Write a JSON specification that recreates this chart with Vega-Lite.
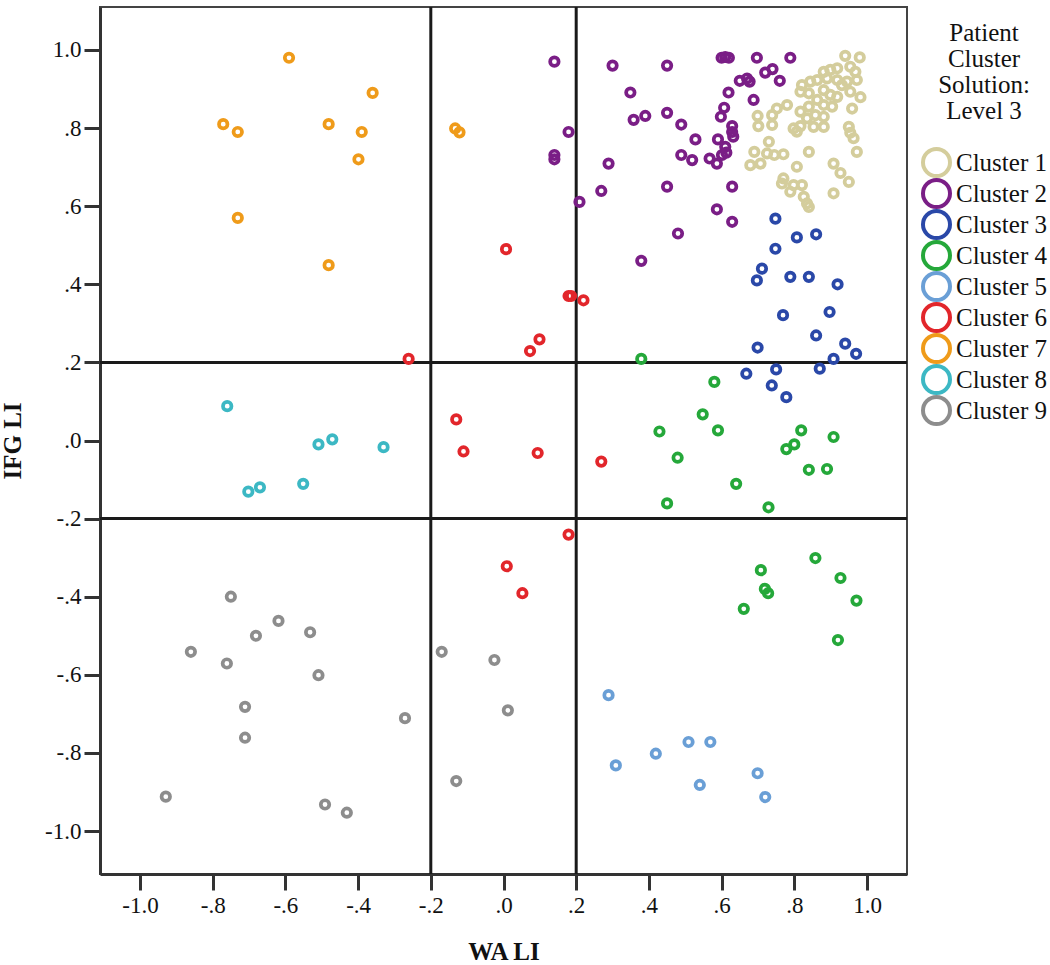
{
  "$schema": "https://vega.github.io/schema/vega-lite/v6.json",
  "width": 807,
  "height": 867,
  "autosize": {"type": "none"},
  "padding": {"left": 100, "top": 7, "right": 143, "bottom": 91},
  "background": "white",
  "config": {
    "view": {"stroke": "#444", "strokeWidth": 2},
    "font": "Liberation Serif",
    "axis": {
      "labelFont": "Liberation Serif",
      "labelFontSize": 23,
      "labelColor": "#111",
      "titleFont": "Liberation Serif",
      "titleFontSize": 25,
      "titleFontWeight": "bold",
      "titleColor": "#111",
      "domainColor": "#333",
      "domainWidth": 3,
      "tickColor": "#333",
      "tickWidth": 3,
      "tickSize": 16,
      "grid": false
    }
  },
  "layer": [
    {
      "data": {"values": [{"v": -0.2}, {"v": 0.2}]},
      "mark": {"type": "rule", "color": "#1a1a1a", "strokeWidth": 3},
      "encoding": {
        "x": {"field": "v", "type": "quantitative", "scale": {"domain": [-1.11, 1.11], "nice": false, "zero": false}}
      }
    },
    {
      "data": {"values": [{"v": -0.2}, {"v": 0.2}]},
      "mark": {"type": "rule", "color": "#1a1a1a", "strokeWidth": 3},
      "encoding": {
        "y": {"field": "v", "type": "quantitative", "scale": {"domain": [-1.11, 1.11], "nice": false, "zero": false}}
      }
    },
    {
      "data": {"values": [
        {"x":0.940,"y":0.985,"cluster":"Cluster 1"},{"x":0.980,"y":0.981,"cluster":"Cluster 1"},
        {"x":0.918,"y":0.953,"cluster":"Cluster 1"},{"x":0.954,"y":0.957,"cluster":"Cluster 1"},{"x":0.881,"y":0.944,"cluster":"Cluster 1"},{"x":0.899,"y":0.949,"cluster":"Cluster 1"},{"x":0.968,"y":0.944,"cluster":"Cluster 1"},
        {"x":0.821,"y":0.910,"cluster":"Cluster 1"},{"x":0.844,"y":0.919,"cluster":"Cluster 1"},{"x":0.863,"y":0.923,"cluster":"Cluster 1"},{"x":0.890,"y":0.927,"cluster":"Cluster 1"},{"x":0.918,"y":0.923,"cluster":"Cluster 1"},{"x":0.945,"y":0.919,"cluster":"Cluster 1"},{"x":0.972,"y":0.923,"cluster":"Cluster 1"},{"x":0.931,"y":0.910,"cluster":"Cluster 1"},
        {"x":0.817,"y":0.893,"cluster":"Cluster 1"},{"x":0.840,"y":0.889,"cluster":"Cluster 1"},{"x":0.881,"y":0.897,"cluster":"Cluster 1"},{"x":0.899,"y":0.885,"cluster":"Cluster 1"},{"x":0.918,"y":0.880,"cluster":"Cluster 1"},{"x":0.954,"y":0.893,"cluster":"Cluster 1"},{"x":0.982,"y":0.879,"cluster":"Cluster 1"},{"x":0.863,"y":0.872,"cluster":"Cluster 1"},
        {"x":0.752,"y":0.850,"cluster":"Cluster 1"},{"x":0.780,"y":0.859,"cluster":"Cluster 1"},{"x":0.817,"y":0.842,"cluster":"Cluster 1"},{"x":0.840,"y":0.855,"cluster":"Cluster 1"},{"x":0.881,"y":0.859,"cluster":"Cluster 1"},{"x":0.904,"y":0.855,"cluster":"Cluster 1"},{"x":0.959,"y":0.850,"cluster":"Cluster 1"},
        {"x":0.699,"y":0.831,"cluster":"Cluster 1"},{"x":0.739,"y":0.833,"cluster":"Cluster 1"},{"x":0.835,"y":0.825,"cluster":"Cluster 1"},{"x":0.858,"y":0.833,"cluster":"Cluster 1"},{"x":0.881,"y":0.829,"cluster":"Cluster 1"},
        {"x":0.701,"y":0.805,"cluster":"Cluster 1"},{"x":0.739,"y":0.808,"cluster":"Cluster 1"},{"x":0.798,"y":0.799,"cluster":"Cluster 1"},{"x":0.817,"y":0.805,"cluster":"Cluster 1"},{"x":0.853,"y":0.803,"cluster":"Cluster 1"},{"x":0.881,"y":0.803,"cluster":"Cluster 1"},{"x":0.950,"y":0.803,"cluster":"Cluster 1"},{"x":0.954,"y":0.788,"cluster":"Cluster 1"},{"x":0.807,"y":0.791,"cluster":"Cluster 1"},
        {"x":0.730,"y":0.765,"cluster":"Cluster 1"},{"x":0.963,"y":0.774,"cluster":"Cluster 1"},
        {"x":0.690,"y":0.739,"cluster":"Cluster 1"},{"x":0.725,"y":0.735,"cluster":"Cluster 1"},{"x":0.745,"y":0.731,"cluster":"Cluster 1"},{"x":0.770,"y":0.733,"cluster":"Cluster 1"},{"x":0.840,"y":0.739,"cluster":"Cluster 1"},{"x":0.972,"y":0.739,"cluster":"Cluster 1"},
        {"x":0.679,"y":0.705,"cluster":"Cluster 1"},{"x":0.707,"y":0.709,"cluster":"Cluster 1"},{"x":0.807,"y":0.701,"cluster":"Cluster 1"},{"x":0.908,"y":0.709,"cluster":"Cluster 1"},
        {"x":0.927,"y":0.685,"cluster":"Cluster 1"},
        {"x":0.770,"y":0.671,"cluster":"Cluster 1"},{"x":0.798,"y":0.654,"cluster":"Cluster 1"},{"x":0.821,"y":0.654,"cluster":"Cluster 1"},{"x":0.766,"y":0.658,"cluster":"Cluster 1"},{"x":0.950,"y":0.662,"cluster":"Cluster 1"},
        {"x":0.789,"y":0.637,"cluster":"Cluster 1"},{"x":0.826,"y":0.624,"cluster":"Cluster 1"},{"x":0.835,"y":0.607,"cluster":"Cluster 1"},{"x":0.840,"y":0.598,"cluster":"Cluster 1"},{"x":0.908,"y":0.633,"cluster":"Cluster 1"},

        {"x":0.140,"y":0.970,"cluster":"Cluster 2"},{"x":0.300,"y":0.960,"cluster":"Cluster 2"},{"x":0.450,"y":0.960,"cluster":"Cluster 2"},{"x":0.349,"y":0.891,"cluster":"Cluster 2"},{"x":0.358,"y":0.821,"cluster":"Cluster 2"},{"x":0.390,"y":0.831,"cluster":"Cluster 2"},{"x":0.450,"y":0.839,"cluster":"Cluster 2"},{"x":0.489,"y":0.809,"cluster":"Cluster 2"},{"x":0.528,"y":0.771,"cluster":"Cluster 2"},{"x":0.179,"y":0.790,"cluster":"Cluster 2"},
        {"x":0.140,"y":0.731,"cluster":"Cluster 2"},{"x":0.140,"y":0.720,"cluster":"Cluster 2"},{"x":0.289,"y":0.709,"cluster":"Cluster 2"},{"x":0.489,"y":0.731,"cluster":"Cluster 2"},{"x":0.519,"y":0.718,"cluster":"Cluster 2"},{"x":0.269,"y":0.639,"cluster":"Cluster 2"},{"x":0.209,"y":0.611,"cluster":"Cluster 2"},{"x":0.450,"y":0.650,"cluster":"Cluster 2"},{"x":0.480,"y":0.530,"cluster":"Cluster 2"},{"x":0.379,"y":0.460,"cluster":"Cluster 2"},
        {"x":0.600,"y":0.980,"cluster":"Cluster 2"},{"x":0.610,"y":0.982,"cluster":"Cluster 2"},{"x":0.620,"y":0.980,"cluster":"Cluster 2"},{"x":0.697,"y":0.980,"cluster":"Cluster 2"},{"x":0.789,"y":0.980,"cluster":"Cluster 2"},{"x":0.720,"y":0.942,"cluster":"Cluster 2"},{"x":0.740,"y":0.951,"cluster":"Cluster 2"},{"x":0.760,"y":0.921,"cluster":"Cluster 2"},{"x":0.650,"y":0.921,"cluster":"Cluster 2"},{"x":0.670,"y":0.927,"cluster":"Cluster 2"},
        {"x":0.677,"y":0.919,"cluster":"Cluster 2"},{"x":0.619,"y":0.891,"cluster":"Cluster 2"},{"x":0.688,"y":0.872,"cluster":"Cluster 2"},{"x":0.607,"y":0.852,"cluster":"Cluster 2"},{"x":0.598,"y":0.829,"cluster":"Cluster 2"},{"x":0.629,"y":0.805,"cluster":"Cluster 2"},{"x":0.629,"y":0.790,"cluster":"Cluster 2"},{"x":0.632,"y":0.778,"cluster":"Cluster 2"},{"x":0.590,"y":0.771,"cluster":"Cluster 2"},{"x":0.610,"y":0.752,"cluster":"Cluster 2"},
        {"x":0.567,"y":0.722,"cluster":"Cluster 2"},{"x":0.587,"y":0.709,"cluster":"Cluster 2"},{"x":0.601,"y":0.731,"cluster":"Cluster 2"},{"x":0.613,"y":0.737,"cluster":"Cluster 2"},{"x":0.629,"y":0.650,"cluster":"Cluster 2"},{"x":0.587,"y":0.592,"cluster":"Cluster 2"},{"x":0.629,"y":0.560,"cluster":"Cluster 2"},

        {"x":0.748,"y":0.568,"cluster":"Cluster 3"},{"x":0.807,"y":0.520,"cluster":"Cluster 3"},{"x":0.860,"y":0.528,"cluster":"Cluster 3"},{"x":0.748,"y":0.491,"cluster":"Cluster 3"},{"x":0.711,"y":0.440,"cluster":"Cluster 3"},{"x":0.697,"y":0.410,"cluster":"Cluster 3"},{"x":0.789,"y":0.419,"cluster":"Cluster 3"},{"x":0.840,"y":0.419,"cluster":"Cluster 3"},{"x":0.919,"y":0.400,"cluster":"Cluster 3"},{"x":0.769,"y":0.321,"cluster":"Cluster 3"},
        {"x":0.897,"y":0.329,"cluster":"Cluster 3"},{"x":0.860,"y":0.269,"cluster":"Cluster 3"},{"x":0.699,"y":0.238,"cluster":"Cluster 3"},{"x":0.940,"y":0.248,"cluster":"Cluster 3"},{"x":0.970,"y":0.222,"cluster":"Cluster 3"},{"x":0.908,"y":0.209,"cluster":"Cluster 3"},{"x":0.870,"y":0.184,"cluster":"Cluster 3"},{"x":0.750,"y":0.182,"cluster":"Cluster 3"},{"x":0.668,"y":0.171,"cluster":"Cluster 3"},{"x":0.738,"y":0.141,"cluster":"Cluster 3"},{"x":0.778,"y":0.111,"cluster":"Cluster 3"},

        {"x":0.379,"y":0.209,"cluster":"Cluster 4"},{"x":0.580,"y":0.150,"cluster":"Cluster 4"},{"x":0.548,"y":0.067,"cluster":"Cluster 4"},{"x":0.429,"y":0.023,"cluster":"Cluster 4"},{"x":0.590,"y":0.026,"cluster":"Cluster 4"},{"x":0.479,"y":-0.044,"cluster":"Cluster 4"},{"x":0.819,"y":0.026,"cluster":"Cluster 4"},{"x":0.800,"y":-0.010,"cluster":"Cluster 4"},{"x":0.778,"y":-0.022,"cluster":"Cluster 4"},{"x":0.908,"y":0.009,"cluster":"Cluster 4"},
        {"x":0.840,"y":-0.075,"cluster":"Cluster 4"},{"x":0.890,"y":-0.073,"cluster":"Cluster 4"},{"x":0.640,"y":-0.111,"cluster":"Cluster 4"},{"x":0.450,"y":-0.161,"cluster":"Cluster 4"},{"x":0.729,"y":-0.171,"cluster":"Cluster 4"},{"x":0.858,"y":-0.301,"cluster":"Cluster 4"},{"x":0.708,"y":-0.332,"cluster":"Cluster 4"},{"x":0.927,"y":-0.352,"cluster":"Cluster 4"},{"x":0.719,"y":-0.380,"cluster":"Cluster 4"},{"x":0.728,"y":-0.391,"cluster":"Cluster 4"},
        {"x":0.971,"y":-0.410,"cluster":"Cluster 4"},{"x":0.661,"y":-0.431,"cluster":"Cluster 4"},{"x":0.920,"y":-0.511,"cluster":"Cluster 4"},

        {"x":0.289,"y":-0.652,"cluster":"Cluster 5"},{"x":0.309,"y":-0.832,"cluster":"Cluster 5"},{"x":0.419,"y":-0.802,"cluster":"Cluster 5"},{"x":0.509,"y":-0.772,"cluster":"Cluster 5"},{"x":0.569,"y":-0.772,"cluster":"Cluster 5"},{"x":0.540,"y":-0.882,"cluster":"Cluster 5"},{"x":0.699,"y":-0.852,"cluster":"Cluster 5"},{"x":0.720,"y":-0.913,"cluster":"Cluster 5"},

        {"x":0.007,"y":0.490,"cluster":"Cluster 6"},{"x":0.179,"y":0.370,"cluster":"Cluster 6"},{"x":0.186,"y":0.370,"cluster":"Cluster 6"},{"x":0.220,"y":0.359,"cluster":"Cluster 6"},{"x":0.099,"y":0.259,"cluster":"Cluster 6"},{"x":0.073,"y":0.229,"cluster":"Cluster 6"},{"x":-0.261,"y":0.209,"cluster":"Cluster 6"},
        {"x":-0.130,"y":0.054,"cluster":"Cluster 6"},{"x":-0.110,"y":-0.028,"cluster":"Cluster 6"},{"x":0.094,"y":-0.032,"cluster":"Cluster 6"},{"x":0.269,"y":-0.054,"cluster":"Cluster 6"},{"x":0.179,"y":-0.241,"cluster":"Cluster 6"},{"x":0.009,"y":-0.322,"cluster":"Cluster 6"},{"x":0.052,"y":-0.391,"cluster":"Cluster 6"},

        {"x":-0.590,"y":0.980,"cluster":"Cluster 7"},{"x":-0.771,"y":0.810,"cluster":"Cluster 7"},{"x":-0.731,"y":0.790,"cluster":"Cluster 7"},{"x":-0.481,"y":0.810,"cluster":"Cluster 7"},{"x":-0.731,"y":0.570,"cluster":"Cluster 7"},{"x":-0.481,"y":0.449,"cluster":"Cluster 7"},{"x":-0.360,"y":0.890,"cluster":"Cluster 7"},{"x":-0.390,"y":0.790,"cluster":"Cluster 7"},{"x":-0.399,"y":0.720,"cluster":"Cluster 7"},{"x":-0.133,"y":0.799,"cluster":"Cluster 7"},{"x":-0.121,"y":0.789,"cluster":"Cluster 7"},

        {"x":-0.760,"y":0.088,"cluster":"Cluster 8"},{"x":-0.509,"y":-0.010,"cluster":"Cluster 8"},{"x":-0.471,"y":0.003,"cluster":"Cluster 8"},{"x":-0.702,"y":-0.131,"cluster":"Cluster 8"},{"x":-0.670,"y":-0.120,"cluster":"Cluster 8"},{"x":-0.551,"y":-0.111,"cluster":"Cluster 8"},{"x":-0.330,"y":-0.017,"cluster":"Cluster 8"},

        {"x":-0.750,"y":-0.400,"cluster":"Cluster 9"},{"x":-0.619,"y":-0.462,"cluster":"Cluster 9"},{"x":-0.681,"y":-0.500,"cluster":"Cluster 9"},{"x":-0.532,"y":-0.491,"cluster":"Cluster 9"},{"x":-0.860,"y":-0.541,"cluster":"Cluster 9"},{"x":-0.761,"y":-0.571,"cluster":"Cluster 9"},{"x":-0.509,"y":-0.601,"cluster":"Cluster 9"},{"x":-0.711,"y":-0.682,"cluster":"Cluster 9"},{"x":-0.711,"y":-0.761,"cluster":"Cluster 9"},{"x":-0.929,"y":-0.912,"cluster":"Cluster 9"},
        {"x":-0.491,"y":-0.932,"cluster":"Cluster 9"},{"x":-0.431,"y":-0.953,"cluster":"Cluster 9"},{"x":-0.170,"y":-0.541,"cluster":"Cluster 9"},{"x":-0.025,"y":-0.562,"cluster":"Cluster 9"},{"x":0.012,"y":-0.691,"cluster":"Cluster 9"},{"x":-0.271,"y":-0.711,"cluster":"Cluster 9"},{"x":-0.130,"y":-0.872,"cluster":"Cluster 9"}
      ]},
      "mark": {"type": "point", "shape": "circle", "filled": false, "size": 72, "strokeWidth": 3.7, "opacity": 1},
      "encoding": {
        "x": {
          "field": "x", "type": "quantitative",
          "scale": {"domain": [-1.11, 1.11], "nice": false, "zero": false},
          "axis": {
            "title": "WA LI",
            "values": [-1, -0.8, -0.6, -0.4, -0.2, 0, 0.2, 0.4, 0.6, 0.8, 1],
            "labelExpr": "abs(datum.value) > 0.99 ? (datum.value < 0 ? '-1.0' : '1.0') : (datum.value < -0.01 ? '-' : '') + '.' + format(abs(datum.value) * 10, '.0f')",
            "labelPadding": 4,
            "titlePadding": 22
          }
        },
        "y": {
          "field": "y", "type": "quantitative",
          "scale": {"domain": [-1.11, 1.11], "nice": false, "zero": false},
          "axis": {
            "title": "IFG LI",
            "values": [-1, -0.8, -0.6, -0.4, -0.2, 0, 0.2, 0.4, 0.6, 0.8, 1],
            "labelExpr": "abs(datum.value) > 0.99 ? (datum.value < 0 ? '-1.0' : '1.0') : (datum.value < -0.01 ? '-' : '') + '.' + format(abs(datum.value) * 10, '.0f')",
            "labelPadding": 3,
            "titlePadding": 19
          }
        },
        "color": {
          "field": "cluster", "type": "nominal",
          "scale": {
            "domain": ["Cluster 1", "Cluster 2", "Cluster 3", "Cluster 4", "Cluster 5", "Cluster 6", "Cluster 7", "Cluster 8", "Cluster 9"],
            "range": ["#d4cd9c", "#7a1e86", "#2a48a8", "#25a83a", "#6a9fd6", "#e2262b", "#ef9b1a", "#3cb8c4", "#8d8d8d"]
          },
          "legend": {
            "orient": "none",
            "legendX": 821,
            "legendY": 14,
            "title": ["Patient", "Cluster", "Solution:", "Level 3"],
            "titleFont": "Liberation Serif",
            "titleFontSize": 25,
            "titleFontWeight": "normal",
            "titleLineHeight": 26,
            "titleAlign": "center",
            "titleAnchor": "middle",
            "titlePadding": 23,
            "titleColor": "#111",
            "labelFont": "Liberation Serif",
            "labelFontSize": 25,
            "labelColor": "#111",
            "labelOffset": 4,
            "symbolType": "circle",
            "symbolSize": 729,
            "symbolStrokeWidth": 4,
            "clipHeight": 31,
            "rowPadding": 0
          }
        }
      }
    }
  ]
}
